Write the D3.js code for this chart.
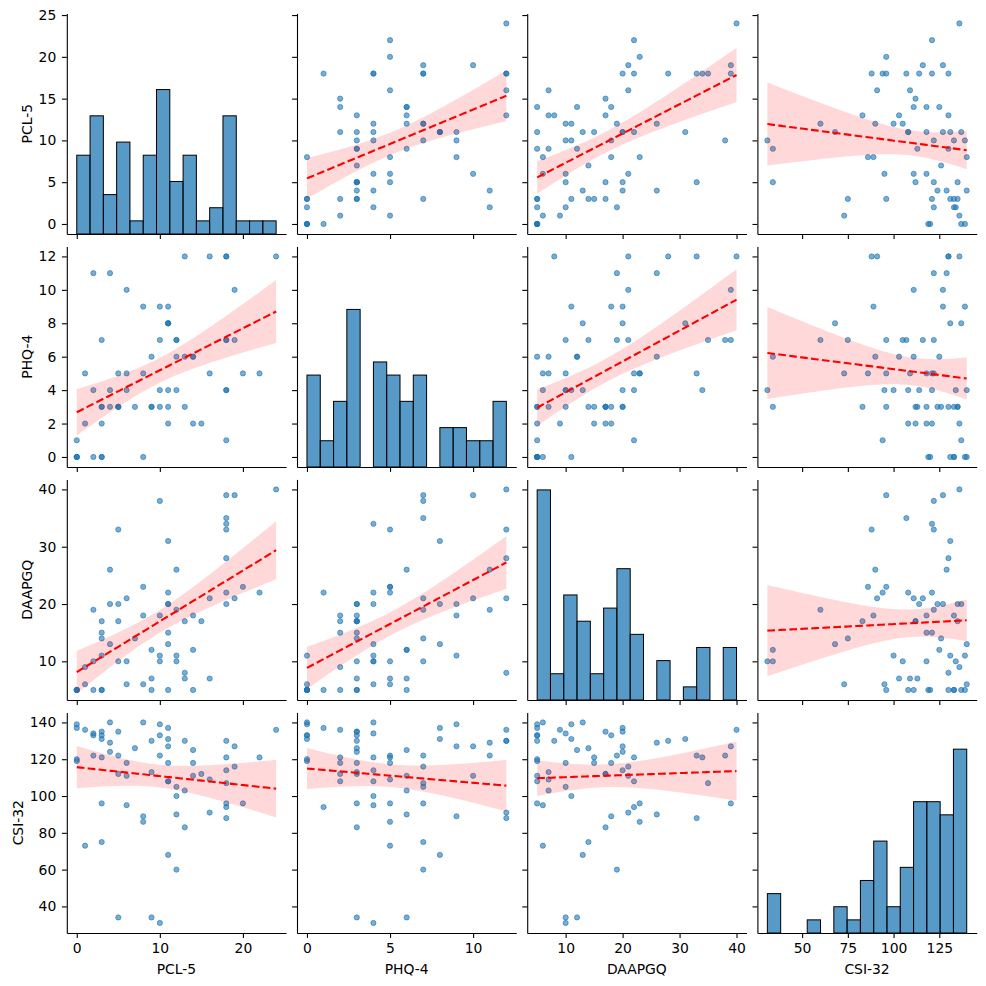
<!DOCTYPE html>
<html>
<head>
<meta charset="utf-8">
<script src="https://cdn.jsdelivr.net/npm/d3@7"></script>
<style>
  body { margin: 0; background: #fff; }
  svg text { font-family: "DejaVu Sans", sans-serif; }
</style>
</head>
<body>
<svg id="chart" width="986" height="986"></svg>
<script>
// variables, in row / column order
const vars = ["PCL-5", "PHQ-4", "DAAPGQ", "CSI-32"]

// one entry per respondent (68)
const pcl = [24,22,20,19,19,18,18,18,18,18,18,18,16,16,15,14,14,14,13,13,13,12,12,12,12,11,11,11,11,11,11,11,10,10,10,10,9,9,9,8,8,8,7,6,6,6,5,5,5,5,4,4,4,3,3,3,3,3,3,2,2,2,1,1,0,0,0,0]
const phq = [12,5,5,10,7,1,12,12,7,7,4,4,5,12,2,2,6,6,3,6,12,4,6,7,7,8,8,8,9,4,2,3,7,9,4,3,6,3,3,0,5,9,3,10,4,5,5,3,3,3,11,3,4,7,2,3,3,0,0,11,0,4,5,2,1,0,0,0]
const daapgq = [40,22,23,39,21,22,28,33,35,39,20,34,7,21,17,18,12,5,17,7,8,11,26,19,10,13,31,20,20,22,5,15,38,11,10,18,12,7,5,6,23,18,14,21,6,10,33,10,17,20,26,20,13,14,15,17,5,11,5,19,5,10,6,9,5,5,5,5]
const csi = [136,121,96,127,116,94,130,88,107,96,114,121,109,91,112,118,125,111,83,103,130,100,90,60,105,68,131,137,127,108,108,118,122,139,31,133,34,113,130,140,86,89,126,111,95,118,122,34,112,135,129,124,140,75,121,135,96,131,133,122,133,134,73,136,137,139,120,119]

// tick labels
const xTicks = [[0,10,20],[0,5,10],[10,20,30,40],[50,75,100,125]]
const yTicks = [[0,5,10,15,20,25],[0,2,4,6,8,10,12],[10,20,30,40],[40,60,80,100,120,140]]

const nBins = 15

const cols = [pcl, phq, daapgq, csi]
const n = pcl.length

// grid geometry
const left0 = 66.8, colStep = 230.2, W = 219.3
const top0 = 13.4, rowStep = 233, H = 220.6

const blue = 'rgb(31,119,180)'
const svg = d3.select('#chart')

const domains = cols.map(v => {
    const [lo, hi] = d3.extent(v)
    const pad = (hi - lo) * 0.05
    return [lo - pad, hi + pad]
})
const xs = domains.map((dom, j) => d3.scaleLinear().domain(dom)
    .range([left0 + j * colStep, left0 + j * colStep + W]))
const ys = domains.map((dom, i) => d3.scaleLinear().domain(dom)
    .range([top0 + i * rowStep + H, top0 + i * rowStep]))

// histograms, same bin rule for every variable
const hists = cols.map(v => {
    const [lo, hi] = d3.extent(v)
    const w = (hi - lo) / nBins
    const counts = new Array(nBins).fill(0)
    v.forEach(d => counts[Math.min(nBins - 1, Math.floor((d - lo) / w + 1e-9))]++)
    return counts.map((c, k) => ({x0: lo + k * w, x1: lo + (k + 1) * w, c}))
})
const maxCount = d3.max(hists.flat(), b => b.c)

// least squares + 95% band
const fit = (x, y) => {
    const mx = d3.mean(x), my = d3.mean(y)
    let sxx = 0, sxy = 0
    x.forEach((xi, k) => { sxx += (xi - mx) ** 2; sxy += (xi - mx) * (y[k] - my) })
    const b = sxy / sxx, a = my - b * mx
    let sse = 0
    x.forEach((xi, k) => { sse += (y[k] - a - b * xi) ** 2 })
    const s = Math.sqrt(sse / (n - 2))
    const t = 1.997
    const at = xv => {
        const yh = a + b * xv
        const half = t * s * Math.sqrt(1 / n + (xv - mx) ** 2 / sxx)
        return {x: xv, y: yh, lo: yh - half, hi: yh + half}
    }
    return at
}

const styleAxis = sel => {
    sel.attr('font-family', '"DejaVu Sans", sans-serif').attr('font-size', 13.9)
    sel.select('.domain').attr('stroke-width', 1.1)
    sel.selectAll('.tick line').attr('stroke-width', 1.1)
    sel.selectAll('.tick text').attr('fill', '#000')
}

for (let i = 0; i < 4; i++) {
    for (let j = 0; j < 4; j++) {
        const g = svg.append('g')
        const x = xs[j], y = ys[i]
        const bottom = top0 + i * rowStep + H
        const top = top0 + i * rowStep

        if (i === j) {
            const yc = d3.scaleLinear().domain([0, maxCount * 1.05]).range([bottom, top])
            g.selectAll('rect')
                .data(hists[j])
                .enter()
                .append('rect')
                .attr('x', b => x(b.x0))
                .attr('width', b => x(b.x1) - x(b.x0))
                .attr('y', b => yc(b.c))
                .attr('height', b => bottom - yc(b.c))
                .attr('fill', blue)
                .attr('fill-opacity', 0.75)
                .attr('stroke', '#000')
                .attr('stroke-width', 1)
        } else {
            const xv = cols[j], yv = cols[i]
            g.selectAll('circle')
                .data(d3.range(n))
                .enter()
                .append('circle')
                .attr('cx', k => x(xv[k]))
                .attr('cy', k => y(yv[k]))
                .attr('r', 2.6)
                .attr('fill', blue)
                .attr('fill-opacity', 0.6)
                .attr('stroke', blue)
                .attr('stroke-opacity', 0.6)
                .attr('stroke-width', 1)

            const at = fit(xv, yv)
            const [x0, x1] = d3.extent(xv)
            const grid = d3.range(100).map(k => at(x0 + (x1 - x0) * k / 99))

            g.append('path')
                .datum(grid)
                .attr('d', d3.area().x(p => x(p.x)).y0(p => y(p.lo)).y1(p => y(p.hi)))
                .attr('fill', 'red')
                .attr('fill-opacity', 0.15)

            g.append('path')
                .datum(grid)
                .attr('d', d3.line().x(p => x(p.x)).y(p => y(p.y)))
                .attr('fill', 'none')
                .attr('stroke', 'red')
                .attr('stroke-width', 2.1)
                .attr('stroke-dasharray', '7.7,3.3')
        }

        g.append('g')
            .attr('transform', `translate(0,${bottom})`)
            .call(d3.axisBottom(x).tickValues(xTicks[j]).tickSize(4.9).tickSizeOuter(0)
                .tickPadding(4.9).tickFormat(i === 3 ? d3.format('d') : () => ''))
            .call(styleAxis)

        const yAxis = g.append('g')
            .attr('class', j === 0 ? 'ylab' + i : null)
            .attr('transform', `translate(${left0 + j * colStep},0)`)
            .call(d3.axisLeft(y).tickValues(yTicks[i]).tickSize(4.9).tickSizeOuter(0)
                .tickPadding(5.6).tickFormat(j === 0 ? d3.format('d') : () => ''))
            .call(styleAxis)
    }
}

// axis titles
vars.forEach((name, k) => {
    svg.append('text')
        .attr('x', left0 + k * colStep + W / 2)
        .attr('y', top0 + 3 * rowStep + H + 40.5)
        .attr('text-anchor', 'middle')
        .attr('font-size', 13.9)
        .text(name)

    let minX = Infinity
    svg.selectAll('.ylab' + k + ' .tick text').each(function () {
        const bb = this.getBBox()
        minX = Math.min(minX, bb.x + left0)
    })
    const cy = top0 + k * rowStep + H / 2
    svg.append('text')
        .attr('transform', `translate(${minX - 7},${cy}) rotate(-90)`)
        .attr('text-anchor', 'middle')
        .attr('font-size', 13.9)
        .text(name)
})
</script>
</body>
</html>
